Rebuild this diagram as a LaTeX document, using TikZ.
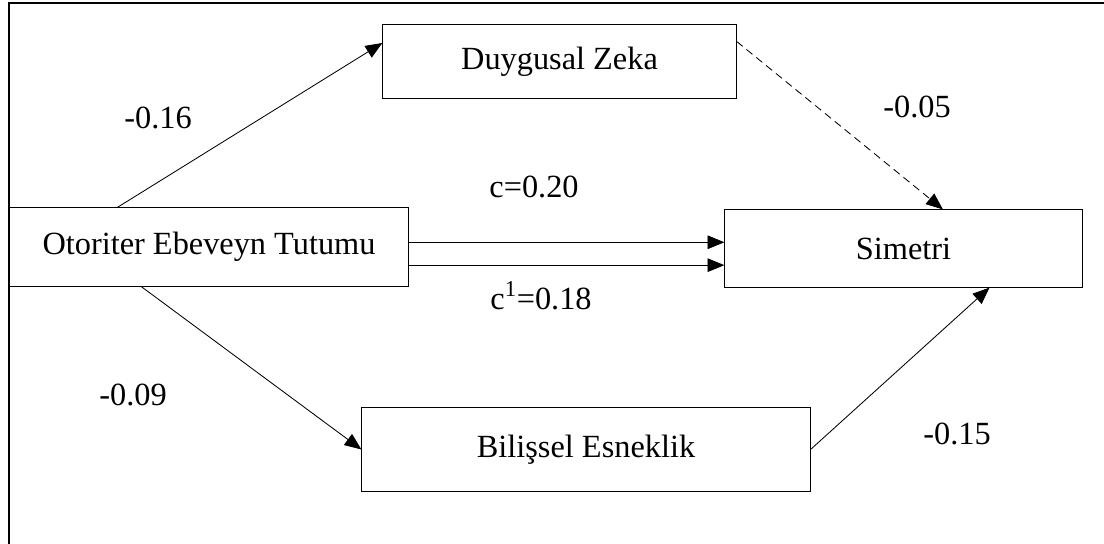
\documentclass[tikz,border=0pt]{standalone}
\usepackage{fontspec}
\setmainfont{Liberation Serif}
\usetikzlibrary{calc,arrows.meta}

\begin{document}
\begin{tikzpicture}[x=0.025cm, y=-0.025cm,
	  font=\fontsize{23}{27}\selectfont,
	  kutu/.style={draw, line width=0.7pt, inner sep=0pt},
	  ok/.style={line width=0.6pt, -{Triangle[length=0.42cm, width=0.34cm]}},
	  katsayi/.style={inner sep=0pt}]
	  \useasboundingbox (0,0) rectangle (1104,544);
	  \draw [line width=2.1pt] (9,544)--(9,3)--(1104,3);

	  \node [kutu, minimum width=9.95cm, minimum height=1.95cm] (oet) at (209,247) {Otoriter Ebeveyn Tutumu};
	  \node [kutu, minimum width=8.83cm, minimum height=1.83cm] (dz) at (559.5,61.5) {Duygusal Zeka};
	  \node [kutu, minimum width=8.93cm, minimum height=1.93cm] (sim) at (903.5,248.5) {Simetri};
	  \node [kutu, minimum width=11.2cm, minimum height=2.08cm] (be) at (586,449.5) {Bilişsel Esneklik};

	  \coordinate (oetUst) at ($(oet.north west)!0.27!(oet.north east)$);
	  \coordinate (oetAlt) at ($(oet.south west)!0.33!(oet.south east)$);
	  \coordinate (oetC) at ($(oet.north east)!0.44!(oet.south east)$);
	  \coordinate (oetCb) at ($(oet.north east)!0.73!(oet.south east)$);
	  \coordinate (dzSol) at ($(dz.north west)!0.25!(dz.south west)$);
	  \coordinate (dzSag) at ($(dz.north east)!0.23!(dz.south east)$);
	  \coordinate (simUst) at ($(sim.north west)!0.61!(sim.north east)$);
	  \coordinate (simAlt) at ($(sim.south west)!0.74!(sim.south east)$);

	  \draw [ok] (oetUst)--(dzSol);
	  \draw [ok, dash pattern=on 5.5pt off 3.5pt] (dzSag)--(simUst);
	  \draw [ok] (oetC)--(oetC -| sim.west);
	  \draw [ok] (oetCb)--(oetCb -| sim.west);
	  \draw [ok] (oetAlt)--(be.west);
	  \draw [ok] (be.east)--(simAlt);

	  \node [katsayi] (a) at (158,118) {-0.16};
	  \node [katsayi] (b) at (917,107) {-0.05};
	  \node [katsayi] (c) at (534,187) {c=0.20};
	  \node [katsayi] (cb) at (541,296) {c\textsuperscript{1}=0.18};
	  \node [katsayi] (a2) at (133,395) {-0.09};
	  \node [katsayi] (b2) at (957,434) {-0.15};
	\end{tikzpicture}
\end{document}
